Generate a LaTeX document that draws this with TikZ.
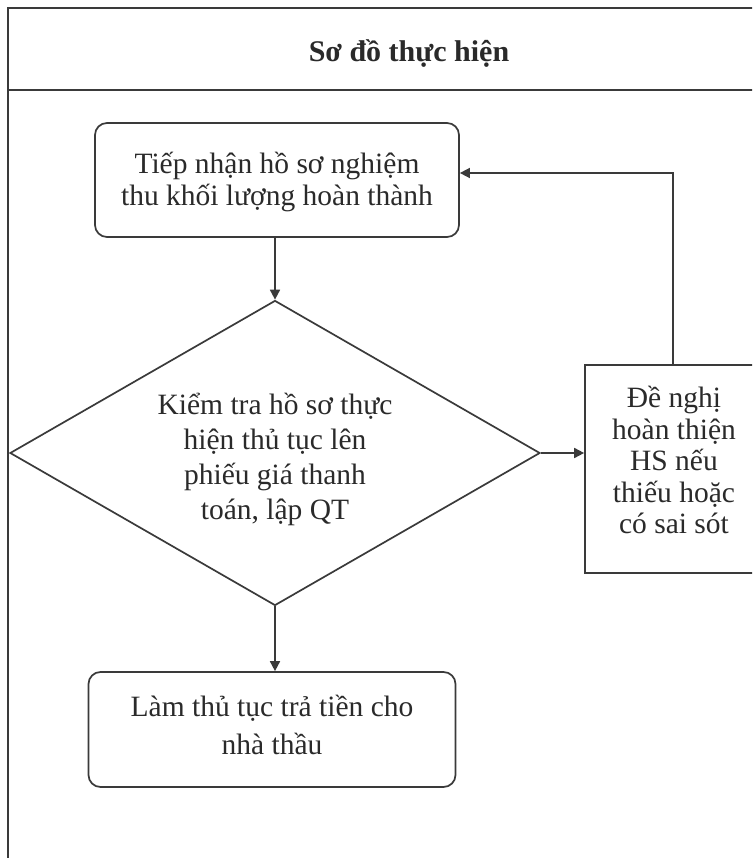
\documentclass[tikz,border=0pt]{standalone}
\usepackage{fontspec}
\setmainfont{Liberation Serif}
\usetikzlibrary{shapes.geometric,arrows.meta}
\definecolor{ink}{HTML}{2A2A2A}
\definecolor{rule}{HTML}{3A3A3A}
\begin{document}
\begin{tikzpicture}[x=1pt,y=-1pt,
  framerule/.style={draw=rule, line width=1.8pt},
  roundbox/.style={draw=rule, line width=1.7pt, rounded corners=12pt, inner sep=0pt},
  plainbox/.style={draw=rule, line width=1.7pt, inner sep=0pt},
  decision/.style={draw=rule, line width=1.7pt, shape=diamond, aspect=1.74, inner sep=0pt},
  label text/.style={align=center, text=ink, inner sep=0pt},
  flow/.style={draw=rule, line width=1.7pt, -{Triangle[length=10pt,width=10pt]}},
  feedback/.style={draw=rule, line width=1.5pt, -{Triangle[length=10pt,width=10pt]}}
]
\useasboundingbox (0,0) rectangle (752,858);
\fill[white] (0,0) rectangle (752,858);
\clip (0,0) rectangle (752,858);

% outer frame with header row
\draw[framerule] (8,900) -- (8,8) -- (770,8);
\draw[framerule] (8,90) -- (770,90);
\node[text=ink, font=\bfseries\fontsize{30}{34}\selectfont] (title) at (409,54) {Sơ đồ thực hiện};

% flow step shapes
\node[roundbox, minimum width=364pt, minimum height=114pt] (recv) at (277,180) {};
\node[decision, minimum width=530pt, minimum height=305pt] (check) at (275,453) {};
\node[plainbox, minimum width=178pt, minimum height=208pt] (fix) at (674,469) {};
\node[roundbox, minimum width=367pt, minimum height=115pt] (pay) at (272,729.5) {};

% their texts
\node[label text, font=\fontsize{29.5}{32.5}\selectfont] (recvtext) at ([yshift=-2pt]recv.center)
  {Tiếp nhận hồ sơ nghiệm\\thu khối lượng hoàn thành};
\node[label text, font=\fontsize{29.5}{35}\selectfont] (checktext) at ([yshift=-6pt]check.center)
  {Kiểm tra hồ sơ thực\\hiện thủ tục lên\\phiếu giá thanh\\toán, lập QT};
\node[label text, font=\fontsize{29.5}{31.5}\selectfont] (fixtext) at ([yshift=9pt]fix.center)
  {Đề nghị\\hoàn thiện\\HS nếu\\thiếu hoặc\\có sai sót};
\node[label text, font=\fontsize{29.5}{38}\selectfont] (paytext) at ([yshift=5pt]pay.center)
  {Làm thủ tục trả tiền cho\\nhà thầu};

% connectors
\draw[flow] (recv.south -| check.north) -- (check.north);
\draw[flow] (check.east) -- (check.east -| fix.west);
\draw[flow] (check.south) -- (check.south |- pay.north);
\coordinate (back) at (673,173);
\draw[feedback] (fix.north -| back) -- (back) -- (back -| recv.east);
\end{tikzpicture}
\end{document}
